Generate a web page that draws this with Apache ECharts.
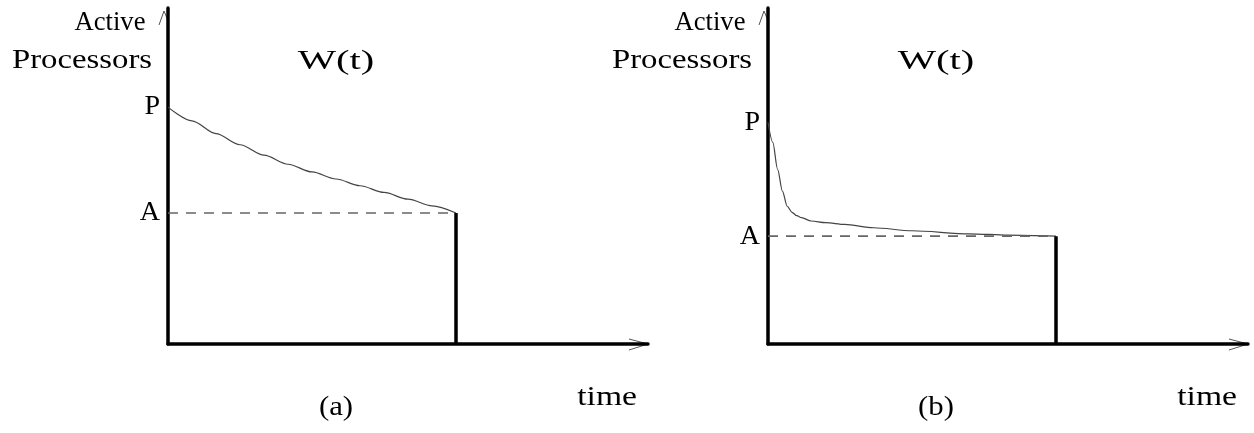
<!DOCTYPE html>
<html>
<head>
<meta charset="utf-8">
<style>
  html, body { margin: 0; padding: 0; background: #ffffff; }
  #chart { width: 1254px; height: 433px; }
</style>
<script src="https://cdn.jsdelivr.net/npm/echarts@6.0.0/dist/echarts.min.js"></script>
</head>
<body>
<div id="chart"></div>
<script>
// Work profile W(t): number of active processors over time, two cases.
const panelNames = ['(a)', '(b)'];
const yAxisTitle = ['Active', 'Processors'];
const xAxisTitle = 'time';
const curveTitle = 'W(t)';

// (a) gradual decline from P down to A
const curveA = [[0, 70.5], [5, 66.4], [10, 62.6], [15, 59.3], [20, 56.2], [25, 53.5],
                [30, 51.2], [35, 49.1], [40, 47.1], [45, 45.1], [50, 43.1], [55, 41.1], [60, 39]];
// (b) sharp initial drop, then nearly flat just above A
const curveB = [[0, 66], [1, 60], [2, 52], [3, 45.5], [4, 41], [5, 39.2], [6, 38.2], [7, 37.6],
                [9, 36.6], [12, 36.1], [16, 35.6], [22, 34.6], [30, 33.7], [42, 32.8], [50, 32.4], [60, 32.1]];
const curves = [curveA, curveB];
const levelP = [70.5, 66];
const levelA = [39, 32.1];
const finishTime = [60, 60];
const axisMax = 100;

const FONT = 'Liberation Serif';
const TEXT = '#000000';
const FS = 28;

// layout of the two panels
const panelLeft = [168, 768];
const panelTop = 8;
const panelWidth = 480;
const panelHeight = 336;

const chart = echarts.init(document.getElementById('chart'), null, { renderer: 'canvas' });

const grids = [], xAxes = [], yAxes = [], series = [], graphics = [];

for (let i = 0; i < 2; i++) {
  grids.push({
    left: panelLeft[i], top: panelTop, width: panelWidth, height: panelHeight,
    containLabel: false, outerBoundsMode: 'none'
  });
  xAxes.push({
    type: 'value', gridIndex: i, min: 0, max: axisMax,
    axisLine: { show: true, onZero: false, lineStyle: { color: '#000', width: 3.5 } },
    axisTick: { show: false }, axisLabel: { show: false }, splitLine: { show: false }
  });
  const p = levelP[i], a = levelA[i];
  yAxes.push({
    type: 'value', gridIndex: i, min: 0, max: axisMax,
    axisLine: { show: true, onZero: false, lineStyle: { color: '#000', width: 3.5 } },
    axisTick: { show: false }, splitLine: { show: false },
    axisLabel: {
      show: true, customValues: [a, p], margin: 8,
      formatter: v => (v === p ? 'P' : 'A'),
      fontFamily: FONT, fontSize: FS, color: TEXT
    }
  });

  // W(t) curve
  series.push({
    type: 'line', xAxisIndex: i, yAxisIndex: i, data: curves[i],
    smooth: 0.3, smoothMonotone: 'x', showSymbol: false, silent: true,
    lineStyle: { color: '#444', width: 1.2 }
  });
  // dashed level A
  series.push({
    type: 'line', xAxisIndex: i, yAxisIndex: i,
    data: [[0, a], [finishTime[i], a]],
    showSymbol: false, silent: true,
    lineStyle: { color: '#666', width: 1.6, type: [10, 8] }
  });
  // end of execution: drop to zero
  series.push({
    type: 'line', xAxisIndex: i, yAxisIndex: i,
    data: [[finishTime[i], a], [finishTime[i], 0]],
    showSymbol: false, silent: true,
    lineStyle: { color: '#000', width: 3.5 }
  });

  const ox = panelLeft[i];
  const oy = panelTop + panelHeight;
  const txt = (s, x, y, align, sx) => ({
    type: 'text', x: x, y: y, scaleX: sx, silent: true,
    style: { text: s, fontFamily: FONT, fontSize: FS, fill: TEXT, align: align, verticalAlign: 'middle' }
  });
  graphics.push(txt(yAxisTitle[0], ox - 58, 23, 'center', 0.95));
  graphics.push(txt(yAxisTitle[1], ox - 86, 61, 'center', 1.17));
  graphics.push(txt(curveTitle, ox + 168, 62, 'center', 1.45));
  graphics.push(txt(xAxisTitle, ox + panelWidth - 11, 398, 'right', 1.2));
  graphics.push(txt(panelNames[i], ox + 168, 408, 'center', 1.1));

  // open arrowheads at the axis ends
  graphics.push({
    type: 'polyline', silent: true,
    shape: { points: [[ox - 9, panelTop + 17], [ox - 4, panelTop + 3], [ox + 1, panelTop + 15]] },
    style: { stroke: '#555', lineWidth: 1, fill: null }
  });
  graphics.push({
    type: 'polyline', silent: true,
    shape: { points: [[ox + panelWidth - 19, oy - 5], [ox + panelWidth, oy], [ox + panelWidth - 19, oy + 6]] },
    style: { stroke: '#555', lineWidth: 1, fill: null }
  });
}

chart.setOption({
  backgroundColor: '#ffffff',
  animation: false,
  grid: grids,
  xAxis: xAxes,
  yAxis: yAxes,
  series: series,
  graphic: graphics
});
</script>
</body>
</html>
